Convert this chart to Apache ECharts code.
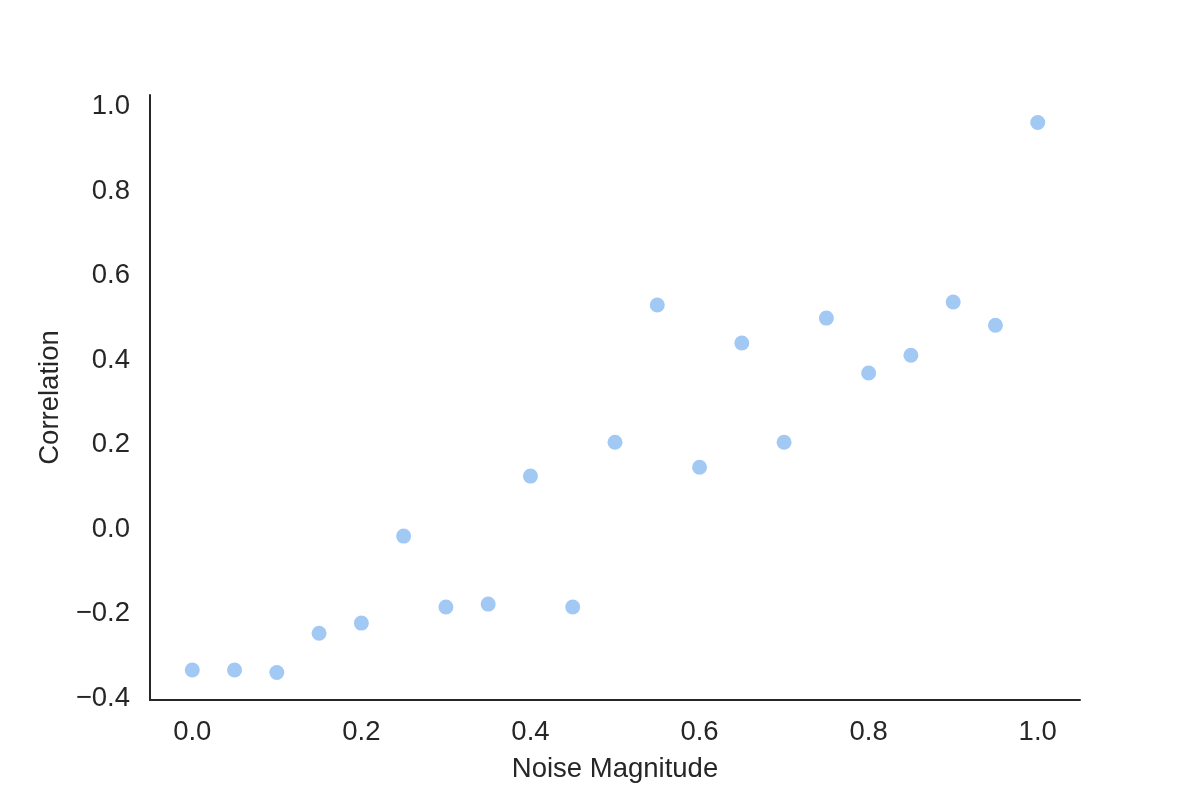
<!DOCTYPE html>
<html>
<head>
<meta charset="utf-8">
<script src="https://cdn.jsdelivr.net/npm/echarts@6/dist/echarts.min.js"></script>
<style>
  html, body { margin: 0; padding: 0; background: #fff; }
  #chart { width: 1200px; height: 800px; }
</style>
</head>
<body>
<div id="chart"></div>
<script>
// noise magnitude steps and the correlation
const noiseLevels = [0.0, 0.05, 0.1, 0.15, 0.2, 0.25, 0.3, 0.35, 0.4, 0.45, 0.5,
  0.55, 0.6, 0.65, 0.7, 0.75, 0.8, 0.85, 0.9, 0.95, 1.0];
const correlations = [-0.343, -0.343, -0.349, -0.256, -0.232, -0.026, -0.194, -0.187,
  0.116, -0.194, 0.196, 0.521, 0.137, 0.431, 0.196, 0.490, 0.360, 0.402, 0.528, 0.473, 0.953];
const xTicks = [0.0, 0.2, 0.4, 0.6, 0.8, 1.0];
const yTicks = [-0.4, -0.2, 0.0, 0.2, 0.4, 0.6, 0.8, 1.0];

const textColor = '#262626';
const fontFamily = '"Liberation Sans", Arial, sans-serif';

const fmt = (v) => {
  let s = Math.abs(v) < 1e-9 ? '0.0' : v.toFixed(1);
  return s.replace('-', '\u2212');
};

const points = noiseLevels.map((x, i) => [x, correlations[i]]);

const axisCommon = {
  type: 'value',
  axisLine: { show: true, onZero: false, lineStyle: { color: textColor, width: 2 } },
  axisTick: { show: false },
  splitLine: { show: false },
  nameLocation: 'middle',
  nameTextStyle: { color: textColor, fontSize: 27.5, fontFamily }
};

const option = {
  animation: false,
  backgroundColor: '#ffffff',
  grid: { left: 150, right: 120, top: 95, bottom: 100 },
  xAxis: Object.assign({}, axisCommon, {
    name: 'Noise Magnitude',
    nameGap: 55,
    min: -0.05,
    max: 1.05,
    axisLabel: {
      customValues: xTicks,
      formatter: fmt,
      color: textColor,
      fontSize: 27.5,
      fontFamily,
      margin: 18
    }
  }),
  yAxis: Object.assign({}, axisCommon, {
    name: 'Correlation',
    nameGap: 85,
    min: -0.414,
    max: 1.018,
    axisLabel: {
      customValues: yTicks,
      formatter: (v) => '{t|' + fmt(v) + '}',
      margin: 20,
      rich: {
        t: {
          color: textColor,
          fontSize: 27.5,
          fontFamily,
          padding: [8, 0, 0, 0]
        }
      }
    }
  }),
  series: [
    {
      type: 'scatter',
      data: points,
      symbolSize: 15,
      itemStyle: { color: '#a1c9f4', opacity: 1 }
    }
  ]
};

const chart = echarts.init(document.getElementById('chart'));
chart.setOption(option);
</script>
</body>
</html>
